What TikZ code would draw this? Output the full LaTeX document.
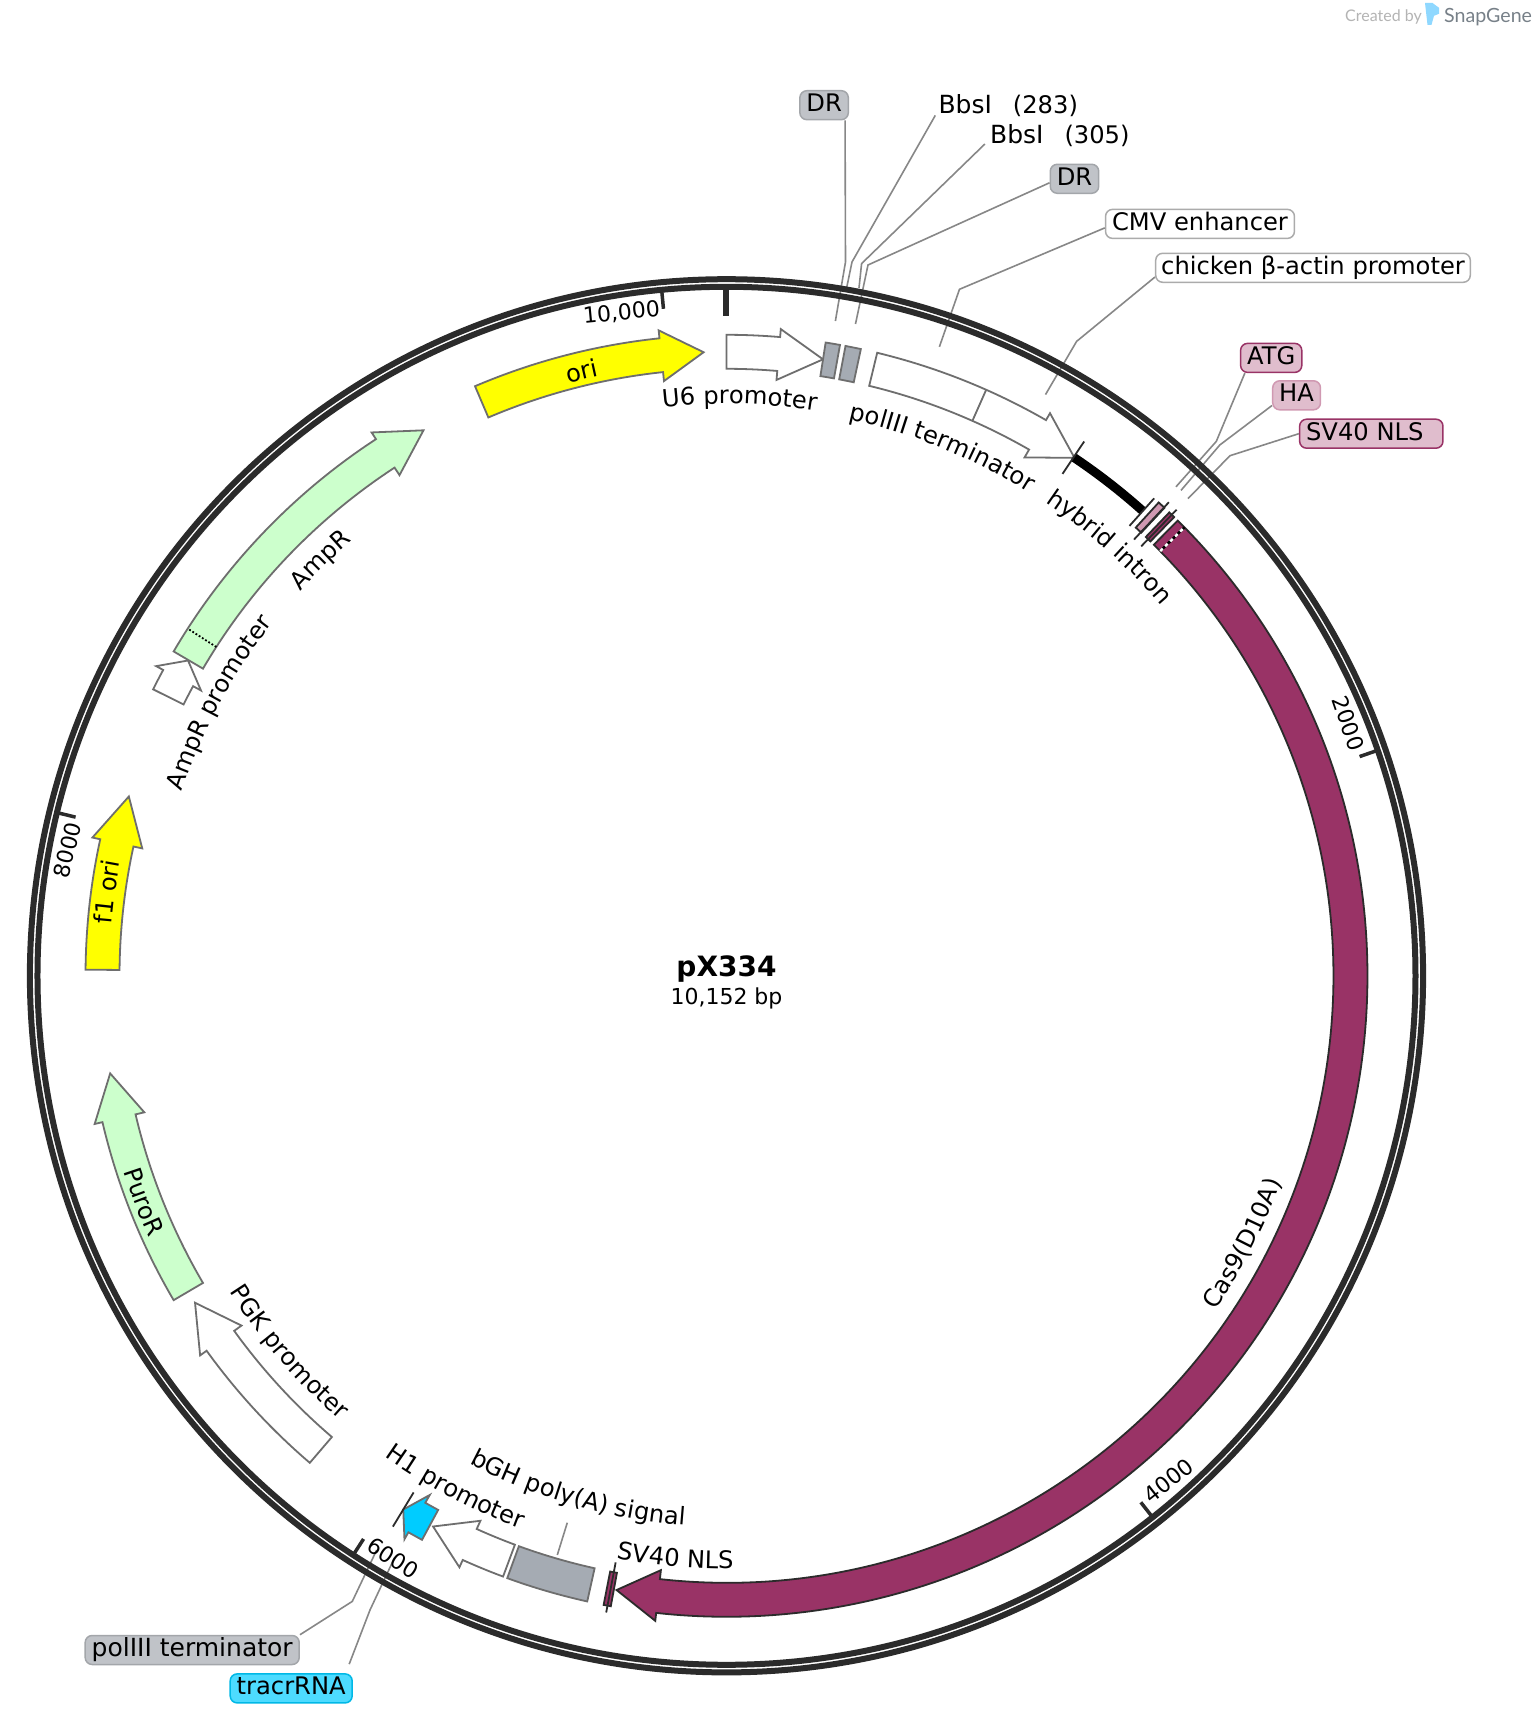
\documentclass[tikz,border=0pt]{standalone}
\usepackage{fontspec}
\setmainfont{DejaVu Sans}
\newfontfamily\logofont{Lato}
\usetikzlibrary{decorations.text}
\definecolor{ringgray}{RGB}{43,43,43}
\definecolor{edgegray}{RGB}{110,110,110}
\definecolor{leadgray}{RGB}{135,135,135}
\definecolor{cas}{RGB}{153,51,102}
\definecolor{haPink}{RGB}{208,153,178}
\definecolor{boxgray}{RGB}{165,171,179}
\definecolor{tagpink}{RGB}{224,189,205}
\definecolor{taggray}{RGB}{192,195,200}
\definecolor{tagcyan}{RGB}{77,219,255}
\definecolor{tagcyanedge}{RGB}{0,184,230}
\definecolor{featcyan}{RGB}{0,204,255}
\definecolor{featyellow}{RGB}{255,255,0}
\definecolor{featgreen}{RGB}{204,255,204}
\definecolor{logoicon}{RGB}{143,216,255}
\definecolor{logogray}{RGB}{180,180,180}
\definecolor{logoname}{RGB}{119,128,136}
\newcommand{\labfont}{\fontsize{24.2}{29}\selectfont}
\newcommand{\rin}{607pt}
\newcommand{\rout}{641pt}
\newcommand{\rmid}{624pt}
\newcommand{\hin}{598pt}
\newcommand{\hout}{649pt}
% feature arrow: tail angle, head base angle, tip angle, style (clockwise from the top)
\newcommand{\featarrow}[4]{
    \draw[#4] (90-#1:\rout) arc[start angle=90-#1, end angle=90-#2, radius=\rout]
      -- (90-#2:\hout) -- (90-#3:\rmid) -- (90-#2:\hin) -- (90-#2:\rin)
      arc[start angle=90-#2, end angle=90-#1, radius=\rin] -- cycle;
}
% feature box: two angles, style
\newcommand{\featbox}[3]{
    \draw[#3] (90-#1:\rout) arc[start angle=90-#1, end angle=90-#2, radius=\rout]
      -- (90-#2:\rin) arc[start angle=90-#2, end angle=90-#1, radius=\rin] -- cycle;
}
% curved labels: radius, middle angle, text
\newcommand{\cwlabel}[3]{
    \path[decorate, decoration={text along path, text align=center, text={|\labfont|#3}}]
      (90-#2+40:#1) arc[start angle=90-#2+40, end angle=90-#2-40, radius=#1];
}
\newcommand{\ccwlabel}[3]{
    \path[decorate, decoration={text along path, text align=center, text={|\labfont|#3}}]
      (90-#2-40:#1) arc[start angle=90-#2-40, end angle=90-#2+40, radius=#1];
}
\tikzset{
  feat/.style={draw=edgegray, line width=1.8pt, fill=#1},
  casfeat/.style={draw=ringgray, line width=1.8pt, fill=#1},
  cuttick/.style={draw=ringgray, line width=1.8pt},
  leader/.style={draw=leadgray, line width=1.6pt},
  tag/.style={draw=#1, line width=1.5pt, rounded corners=7pt, minimum height=29pt,
    inner xsep=6.5pt, inner ysep=0pt, font=\labfont, text height=18pt, text depth=5pt},
  plain/.style={font=\fontsize{25}{30}\selectfont, anchor=west, inner sep=0pt},
}
\begin{document}
\begin{tikzpicture}[x=1pt, y=1pt]
    \useasboundingbox (-726.5,-746.2) rectangle (811.5,975.8);
    \fill[white] (-726.5,-746.2) rectangle (811.5,975.8);

    % Logo
    \node[anchor=west, inner sep=0pt, text=logogray, font=\logofont\fontsize{16}{18}\selectfont] (logoby) at (618.5,958.8) {Created by};
    \fill[logoicon] (698.5,972.8) -- (706,972.8) -- (712.5,968) -- (712.5,962) -- (707.5,960) -- (705,951) -- (701,951) -- cycle;
    \node[anchor=west, inner sep=0pt, text=logoname, font=\logofont\fontsize{19.6}{22}\selectfont] (logotext) at (717.5,958.8) {SnapGene};

    % Features
    \featarrow{0}{4.8}{8.9}{feat=white}
    \featbox{8.9}{10.2}{feat=boxgray}
    \featbox{10.7}{12.1}{feat=boxgray}
    \featarrow{13.6}{29.9}{33.9}{feat=white}
    \draw[feat=white] (90-23.9:\rout) -- (90-23.9:\rin);
    \draw[line width=9pt, black] (90-33.8:\rmid) arc[start angle=90-33.8, end angle=90-41.85, radius=\rmid];
    \featbox{42.4}{43.1}{casfeat=haPink}
    \featbox{43.7}{44.3}{casfeat=cas}
    \featarrow{44.75}{186.3}{190.15}{casfeat=cas}
    \draw[black, line width=2.5pt] (90-45.6:\rin) -- (90-45.6:\rout);
    \draw[white, line width=2.5pt, dash pattern=on 3.5pt off 3.5pt] (90-45.6:\rin) -- (90-45.6:\rout);
    \featbox{190.4}{191.05}{casfeat=cas}
    \featbox{192.55}{200}{feat=boxgray}
    \featarrow{200.4}{204.3}{208.05}{feat=white}
    \featarrow{208.36}{209.75}{211.2}{feat=featcyan}
    \featarrow{220.55}{234.2}{238.4}{feat=white}
    \featarrow{239.6}{256.8}{261}{feat=featgreen}
    \featarrow{270.55}{282.3}{286.7}{feat=featyellow}
    \featarrow{296.55}{298.5}{300.35}{feat=white}
    \featarrow{300.4}{326.85}{330.95}{feat=featgreen}
    \draw[black, line width=1.8pt, dotted] (90-302.8:\rin) -- (90-302.8:\rout);
    \featarrow{336.9}{354}{357.9}{feat=featyellow}

    % Cut marks at the small features
    \foreach \a/\ri/\ro in {33.8/604/643, 41.85/604/641, 43.05/597/648, 44/597/648, 190.7/597/648, 211.2/604/644} {
        \draw[cuttick] (90-\a:\ri pt) -- (90-\a:\ro pt);
      }

    % Labels on and beside the features
    \cwlabel{613pt}{346.5}{ori}
    \cwlabel{572pt}{1.3}{U6 promoter}
    \cwlabel{570pt}{22.2}{polIII terminator}
    \cwlabel{571pt}{41.8}{hybrid intron}
    \ccwlabel{592pt}{117.4}{Cas9(D10A)}
    \ccwlabel{593pt}{185}{SV40 NLS}
    \ccwlabel{551pt}{196.1}{bGH poly(A) signal}
    \ccwlabel{590pt}{207.9}{H1 promoter}
    \ccwlabel{589pt}{229.3}{PGK promoter}
    \ccwlabel{634pt}{248.8}{PuroR}
    \cwlabel{617pt}{277.7}{f1 ori}
    \cwlabel{575pt}{298.3}{AmpR promoter}
    \cwlabel{574pt}{315.7}{AmpR}

    % Tags
    \node[tag=taggray!85!black, fill=taggray] (labDRa) at (97.6,870.6) {DR};
    \node[plain] (labBbsIa) at (211.8,870.4) {BbsI\hspace{21pt}{\labfont (283)}};
    \node[plain] (labBbsIb) at (263.4,839.8) {BbsI\hspace{21pt}{\labfont (305)}};
    \node[tag=taggray!85!black, fill=taggray] (labDRb) at (348,797) {DR};
    \node[tag=leadgray!70!white, fill=white] (labCMV) at (473.5,751.9) {CMV enhancer};
    \node[tag=leadgray!70!white, fill=white, inner xsep=5.5pt] (labActin) at (586.5,708) {chicken β-actin promoter};
    \node[tag=cas, fill=tagpink] (labATG) at (544.7,617.9) {ATG};
    \node[tag=haPink, fill=tagpink] (labHA) at (570.1,580.5) {HA};
    \node[tag=cas, fill=tagpink] (labNLS) at (644.8,542.1) {SV40 NLS\hspace{13pt}\mbox{}};
    \node[tag=taggray!85!black, fill=taggray, font=\fontsize{25}{30}\selectfont] (labPol) at (-534.3,-674.2) {polIII terminator};
    \node[tag=tagcyanedge, fill=tagcyan] (labTracr) at (-435.3,-712.6) {tracrRNA};

    % Free ends of the leaders
    \coordinate (endDRa) at (108.9,654.8);
    \coordinate (endBbsIa) at (120,687.2);
    \coordinate (endBbsIb) at (132.5,687.8);
    \coordinate (endDRb) at (129,651.8);
    \coordinate (endCMV) at (212.9,629);
    \coordinate (endActin) at (319,581.2);
    \coordinate (endATG) at (449.5,489);
    \coordinate (endHA) at (454.5,485.4);
    \coordinate (endNLS) at (461.5,477.2);
    \coordinate (endPol) at (-349.8,-574.2);
    \coordinate (endTracr) at (-332,-582);
    \coordinate (bghTop) at (-159.2,-546.9);
    \coordinate (bghEnd) at (-169.2,-579.2);

    % Leaders
    \draw[leader] ([xshift=-4pt]labDRa.south east) -- (119,713.8) -- (endDRa);
    \draw[leader] ([xshift=-3pt,yshift=-10pt]labBbsIa.west) -- (125.5,713.8) -- (endBbsIa);
    \draw[leader] ([xshift=-5pt,yshift=-8pt]labBbsIb.west) -- (135.1,712.2) -- (endBbsIb);
    \draw[leader] ([yshift=-4pt]labDRb.west) -- (141.5,710.8) -- (endDRb);
    \draw[leader] ([yshift=-4pt]labCMV.west) -- (233,686.5) -- (endCMV);
    \draw[leader] ([yshift=6pt]labActin.south west) -- (350.1,634.4) -- (endActin);
    \draw[leader] ([xshift=5pt]labATG.south west) -- (489.8,534.4) -- (endATG);
    \draw[leader] ([yshift=5pt]labHA.south west) -- (493.3,530.8) -- (endHA);
    \draw[leader] (labNLS.west) -- (503.5,520.1) -- (endNLS);
    \draw[leader] (labPol.north east) -- (-374.2,-625.6) -- (endPol);
    \draw[leader] ([xshift=58pt,yshift=9pt]labTracr.north) -- (-356.5,-634.2) -- (endTracr);
    \draw[leader] (bghTop) -- (bghEnd);

    % Backbone
    \draw[ringgray, line width=6pt] (0,0) circle (696.6pt);
    \draw[ringgray, line width=6pt] (0,0) circle (689pt);
    \draw[ringgray, line width=6pt] (90:660pt) -- (90:687pt);

    % Ruler
    \foreach \a/\lr/\rot/\txt/\nm in {70.9/67.9/-70.9/2000/tickb, 141.8/138.8/38.2/4000/tickc, 212.8/209.8/-32.8/6000/tickd, 283.7/280.8/76.3/8000/ticke, 354.6/351/5.4/{10,000}/tickf} {
        \draw[ringgray, line width=3.5pt] (90-\a:670pt) -- (90-\a:687pt);
        \node[rotate=\rot, inner sep=0pt, font=\fontsize{22}{26}\selectfont] (\nm) at (90-\lr:671pt) {\txt};
      }

    % Name
    \node[font=\bfseries\fontsize{28}{32}\selectfont, inner sep=0pt] (plasmid) at (0,7) {pX334};
    \node[font=\fontsize{22}{26}\selectfont, inner sep=0pt] (size) at (0,-22.7) {10,152 bp};
  \end{tikzpicture}
\end{document}
